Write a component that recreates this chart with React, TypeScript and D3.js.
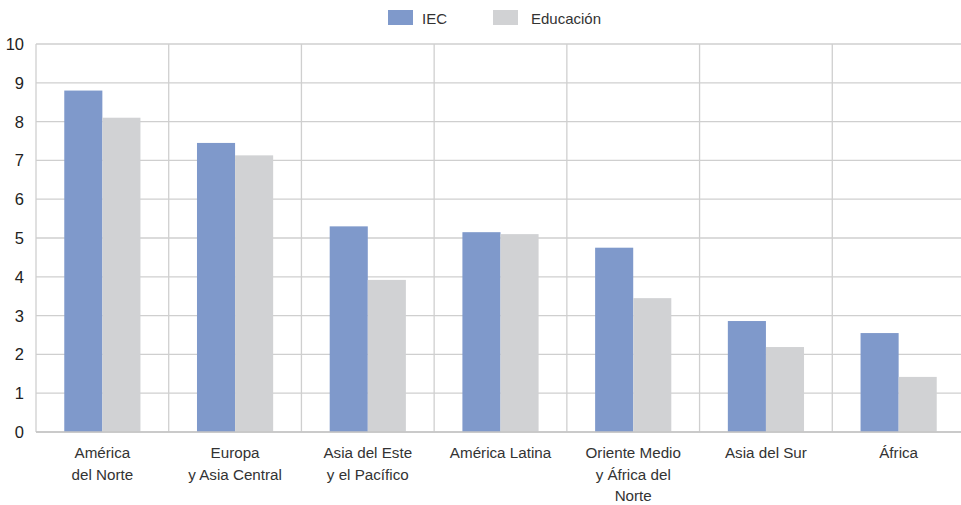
import React from "react";
import * as d3 from "d3";

const categories: string[][] = [
  ["América", "del Norte"],
  ["Europa", "y Asia Central"],
  ["Asia del Este", "y el Pacífico"],
  ["América Latina"],
  ["Oriente Medio", "y África del", "Norte"],
  ["Asia del Sur"],
  ["África"],
];
const iec = [8.8, 7.45, 5.3, 5.15, 4.75, 2.86, 2.55];
const educacion = [8.1, 7.13, 3.92, 5.1, 3.45, 2.19, 1.42];
const yTicks = [0, 1, 2, 3, 4, 5, 6, 7, 8, 9, 10];
const seriesNames = ["IEC", "Educación"];

const W = 961;
const H = 505;
const margin = { left: 36, right: -4, top: 44, bottom: 73 };
const colors = ["#7f99cb", "#d1d2d4"];
const font = "'Liberation Sans', Arial, Helvetica, sans-serif";
const legendRectX = [388, 493];
const legendTextX = [422, 531];

export default function App() {
  const x0 = d3
    .scaleBand<number>()
    .domain(categories.map((_, i) => i))
    .range([margin.left, W - margin.right])
    .paddingInner(0)
    .paddingOuter(0);
  const bw = x0.bandwidth();
  const x1 = d3
    .scaleBand<number>()
    .domain([0, 1])
    .range([bw * 0.213, bw * (1 - 0.213)])
    .paddingInner(0)
    .paddingOuter(0);
  const y = d3.scaleLinear().domain([0, 10]).range([H - margin.bottom, margin.top]);
  const series = [iec, educacion];

  return (
    <svg
      width={W}
      height={H}
      style={{ position: "absolute", left: 0, top: 0, display: "block" }}
    >
      <rect x={0} y={0} width={W} height={H} fill="#fff" />
      {yTicks.map((t) => (
        <line
          key={"h" + t}
          x1={margin.left}
          x2={W - margin.right}
          y1={y(t)}
          y2={y(t)}
          stroke="#cfcfcf"
          strokeWidth={1.3}
        />
      ))}
      {categories.map((_, i) => (
        <line
          key={"v" + i}
          x1={x0(i)!}
          x2={x0(i)!}
          y1={margin.top}
          y2={y(0)}
          stroke="#cfcfcf"
          strokeWidth={1.3}
        />
      ))}
      {series.map((vals, s) =>
        vals.map((v, i) => (
          <rect
            key={s + "-" + i}
            x={x0(i)! + x1(s)!}
            y={y(v)}
            width={x1.bandwidth()}
            height={y(0) - y(v)}
            fill={colors[s]}
          />
        ))
      )}
      <line
        x1={margin.left}
        x2={W - margin.right}
        y1={y(0)}
        y2={y(0)}
        stroke="#c4c4c4"
        strokeWidth={1.5}
      />
      {yTicks.map((t) => (
        <text
          key={"yl" + t}
          x={24}
          y={y(t)}
          dy="0.36em"
          textAnchor="end"
          fontFamily={font}
          fontSize={16.5}
          fill="#222"
        >
          {t}
        </text>
      ))}
      {categories.map((lines, i) => (
        <text
          key={"xl" + i}
          textAnchor="middle"
          fontFamily={font}
          fontSize={15.2}
          fill="#333"
        >
          {lines.map((l, j) => (
            <tspan key={j} x={x0(i)! + bw / 2} y={458 + j * 21.5}>
              {l}
            </tspan>
          ))}
        </text>
      ))}
      {seriesNames.map((n, s) => (
        <g key={"lg" + s}>
          <rect x={legendRectX[s]} y={10} width={25} height={15} fill={colors[s]} />
          <text
            x={legendTextX[s]}
            y={23.5}
            fontFamily={font}
            fontSize={15}
            fill="#333"
          >
            {n}
          </text>
        </g>
      ))}
    </svg>
  );
}
